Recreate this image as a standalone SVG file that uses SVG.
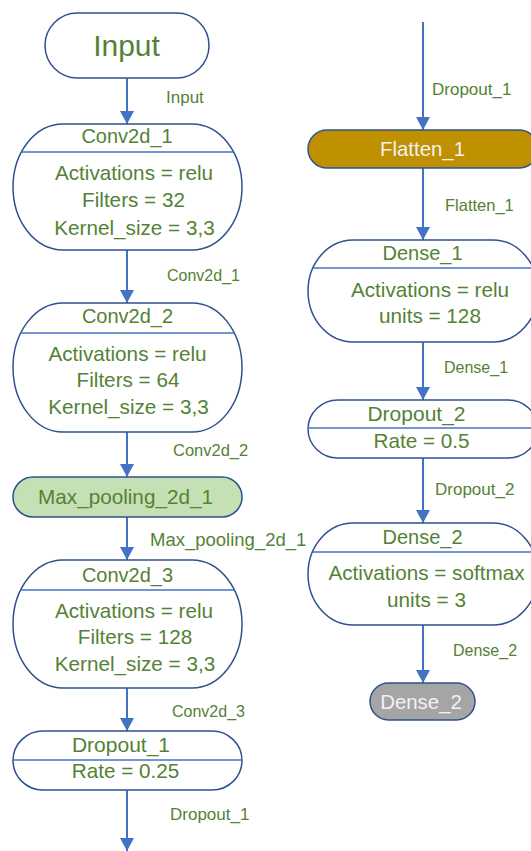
<svg xmlns="http://www.w3.org/2000/svg" width="531" height="851" viewBox="0 0 531 851">
<defs>
<style>
.box{fill:#ffffff;stroke:#2F528F;stroke-width:1.5}
.div{stroke:#4472C4;stroke-width:1.5}
.t{font-family:"Liberation Sans",Arial,sans-serif;font-size:20px;fill:#548235;text-anchor:middle}
.b{font-size:20.7px}
.lbl{font-family:"Liberation Sans",Arial,sans-serif;font-size:16px;fill:#548235}
.wt{font-family:"Liberation Sans",Arial,sans-serif;font-size:20.4px;fill:#F2F2F2;text-anchor:middle}
.con{stroke:#4472C4;stroke-width:2;fill:none;marker-end:url(#ah)}
</style>
<marker id="ah" markerUnits="userSpaceOnUse" markerWidth="14" markerHeight="14" refX="13" refY="7" orient="auto">
<path d="M0,0 L13,7 L0,14 z" fill="#4472C4"/>
</marker>
</defs>
<rect width="531" height="851" fill="#ffffff"/>

<g id="connectors">
<line class="con" x1="127" y1="78" x2="127" y2="124"/>
<line class="con" x1="127" y1="250" x2="127" y2="303"/>
<line class="con" x1="127" y1="432" x2="127" y2="477"/>
<line class="con" x1="127" y1="517" x2="127" y2="560"/>
<line class="con" x1="127" y1="688" x2="127" y2="731"/>
<line class="con" x1="127" y1="790" x2="127" y2="851"/>
<line class="con" x1="423" y1="22" x2="423" y2="130"/>
<line class="con" x1="423" y1="168" x2="423" y2="240"/>
<line class="con" x1="423" y1="342" x2="423" y2="400"/>
<line class="con" x1="423" y1="458" x2="423" y2="523"/>
<line class="con" x1="423" y1="625" x2="423" y2="683"/>
<text class="lbl" x="166" y="103" style="font-size:17px">Input</text>
<text class="lbl" x="167" y="281">Conv2d_1</text>
<text class="lbl" x="173" y="456" style="font-size:16.5px">Conv2d_2</text>
<text class="lbl" x="150" y="546" style="font-size:18.5px">Max_pooling_2d_1</text>
<text class="lbl" x="172" y="717">Conv2d_3</text>
<text class="lbl" x="170" y="820" style="font-size:17px">Dropout_1</text>
<text class="lbl" x="432" y="95" style="font-size:17px">Dropout_1</text>
<text class="lbl" x="445" y="211" style="font-size:16.5px">Flatten_1</text>
<text class="lbl" x="444" y="373">Dense_1</text>
<text class="lbl" x="435" y="495" style="font-size:17px">Dropout_2</text>
<text class="lbl" x="453" y="656">Dense_2</text>
</g>

<g id="input">
<rect class="box" x="45" y="13" width="164" height="65" rx="32.5" ry="32.5"/>
<text class="t" x="126.5" y="56" style="font-size:30px">Input</text>
</g>

<g id="conv2d_1">
<rect class="box" x="13" y="124" width="229" height="126" rx="50" ry="63"/>
<line class="div" x1="21.5" y1="152" x2="233.5" y2="152"/>
<text class="t" x="127" y="143">Conv2d_1</text>
<text class="t b" x="134" y="180">Activations = relu</text>
<text class="t b" x="133.5" y="207">Filters = 32</text>
<text class="t b" x="134.5" y="235">Kernel_size = 3,3</text>
</g>

<g id="conv2d_2">
<rect class="box" x="13" y="303" width="229" height="129" rx="50" ry="64.5"/>
<line class="div" x1="20.7" y1="333" x2="234.3" y2="333"/>
<text class="t" x="127.5" y="323">Conv2d_2</text>
<text class="t b" x="127.5" y="361">Activations = relu</text>
<text class="t b" x="128" y="387">Filters = 64</text>
<text class="t b" x="128.5" y="414">Kernel_size = 3,3</text>
</g>

<g id="max_pooling_2d_1">
<rect x="13" y="477" width="229" height="40" rx="20" ry="20" fill="#C5E0B4" stroke="#2F528F" stroke-width="1.5"/>
<text class="t b" x="125.5" y="504">Max_pooling_2d_1</text>
</g>

<g id="conv2d_3">
<rect class="box" x="13" y="560" width="229" height="128" rx="50" ry="64"/>
<line class="div" x1="20.6" y1="590" x2="234.4" y2="590"/>
<text class="t" x="127.5" y="582">Conv2d_3</text>
<text class="t b" x="134" y="618">Activations = relu</text>
<text class="t b" x="135" y="644">Filters = 128</text>
<text class="t b" x="135" y="671">Kernel_size = 3,3</text>
</g>

<g id="dropout_1">
<rect class="box" x="13" y="731" width="229" height="59" rx="30" ry="29.5"/>
<line class="div" x1="13" y1="760" x2="242" y2="760"/>
<text class="t" x="121" y="752" style="font-size:21px">Dropout_1</text>
<text class="t b" x="125.5" y="778">Rate = 0.25</text>
</g>

<g id="flatten_1">
<rect x="308" y="130" width="230" height="38" rx="19" ry="19" fill="#BF9000" stroke="#2F528F" stroke-width="1.5"/>
<text class="wt" x="422.5" y="156">Flatten_1</text>
</g>

<g id="dense_1">
<rect class="box" x="308" y="240" width="230" height="102" rx="45" ry="51"/>
<line class="div" x1="312.8" y1="268" x2="533.2" y2="268"/>
<text class="t" x="422.5" y="260">Dense_1</text>
<text class="t b" x="430" y="297">Activations = relu</text>
<text class="t b" x="430" y="323">units = 128</text>
</g>

<g id="dropout_2">
<rect class="box" x="308" y="400" width="230" height="58" rx="30" ry="29"/>
<line class="div" x1="308" y1="428" x2="538" y2="428"/>
<text class="t" x="416.5" y="421" style="font-size:21px">Dropout_2</text>
<text class="t b" x="421.5" y="448">Rate = 0.5</text>
</g>

<g id="dense_2">
<rect class="box" x="308" y="523" width="230" height="102" rx="45" ry="51"/>
<line class="div" x1="312.4" y1="552" x2="533.6" y2="552"/>
<text class="t" x="422.5" y="544">Dense_2</text>
<text class="t b" x="426.5" y="580">Activations = softmax</text>
<text class="t b" x="426.5" y="607">units = 3</text>
</g>

<g id="dense_2_output">
<rect x="370" y="683" width="105" height="37" rx="18.5" ry="18.5" fill="#A5A5A5" stroke="#2F528F" stroke-width="1.5"/>
<text class="wt" x="421" y="709">Dense_2</text>
</g>
</svg>
